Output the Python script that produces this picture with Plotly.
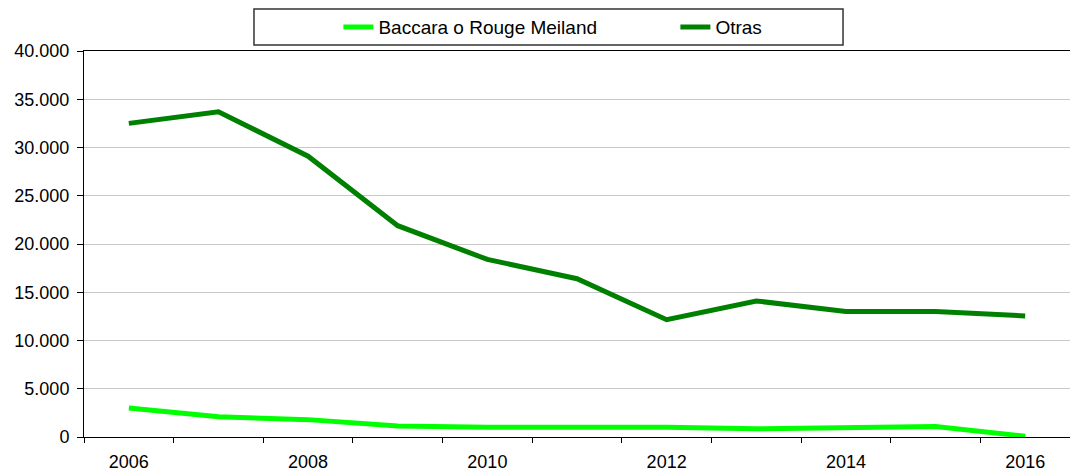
import plotly.graph_objects as go

years = list(range(2006, 2017))
baccara = [3000, 2100, 1800, 1150, 1000, 1000, 1000, 850, 1000, 1100, 80]
otras = [32500, 33700, 29100, 21900, 18400, 16400, 12150, 14100, 13000, 13000, 12550]
x_label_years = [2006, 2008, 2010, 2012, 2014, 2016]
y_ticks = [0, 5000, 10000, 15000, 20000, 25000, 30000, 35000, 40000]
series_names = ["Baccara o Rouge Meiland", "Otras"]
series_colors = ["#00ff00", "#008000"]

FONT = "Liberation Sans, Arial, sans-serif"

fig = go.Figure()
for name, vals, col in zip(series_names, [baccara, otras], series_colors):
    fig.add_trace(go.Scatter(x=years, y=vals, name=name, mode="lines",
                             line=dict(color=col, width=5)))

boundaries = [y - 0.5 for y in years] + [years[-1] + 0.5]

fig.update_layout(
    width=1070, height=475, autosize=False,
    margin=dict(l=84, r=0, t=51, b=38),
    paper_bgcolor="white", plot_bgcolor="white",
    separators=",.",
    font=dict(family=FONT, size=18, color="black"),
    showlegend=True,
    legend=dict(orientation="h", x=0.258, y=1.062, xanchor="left", yanchor="middle",
                xref="paper", yref="paper",
                bgcolor="rgba(0,0,0,0)", borderwidth=0,
                entrywidth=292, entrywidthmode="pixels",
                font=dict(family=FONT, size=19, color="black")),
    shapes=[dict(type="rect", xref="paper", yref="paper",
                 x0=0.1724, x1=0.7698, y0=1.0155, y1=1.1088,
                 line=dict(color="#333333", width=1.5), fillcolor="rgba(0,0,0,0)",
                 layer="below")],
)

fig.update_xaxes(
    range=[years[0] - 0.5, years[-1] + 0.5],
    tickmode="array", tickvals=x_label_years, ticktext=[str(v) for v in x_label_years],
    ticks="", showgrid=False, zeroline=False, ticklabelstandoff=8,
    showline=True, mirror=True, linecolor="black", linewidth=1,
    tickfont=dict(family=FONT, size=18, color="black"),
    minor=dict(tickmode="array", tickvals=boundaries, ticks="outside", ticklen=5,
               tickcolor="black", tickwidth=1, showgrid=False),
)
fig.update_yaxes(
    range=[0, 40000], tickmode="array", tickvals=y_ticks, tickformat=",d",
    ticks="outside", ticklen=6, tickcolor="black", tickwidth=1, ticklabelstandoff=4,
    showline=True, linecolor="black", linewidth=1,
    showgrid=True, gridcolor="#c8c8c8", gridwidth=1, zeroline=False,
    tickfont=dict(family=FONT, size=18, color="black"),
)

fig.write_html("out.html", config={"displayModeBar": False},
               post_script="document.body.style.margin='0';document.body.style.overflow='hidden';")
